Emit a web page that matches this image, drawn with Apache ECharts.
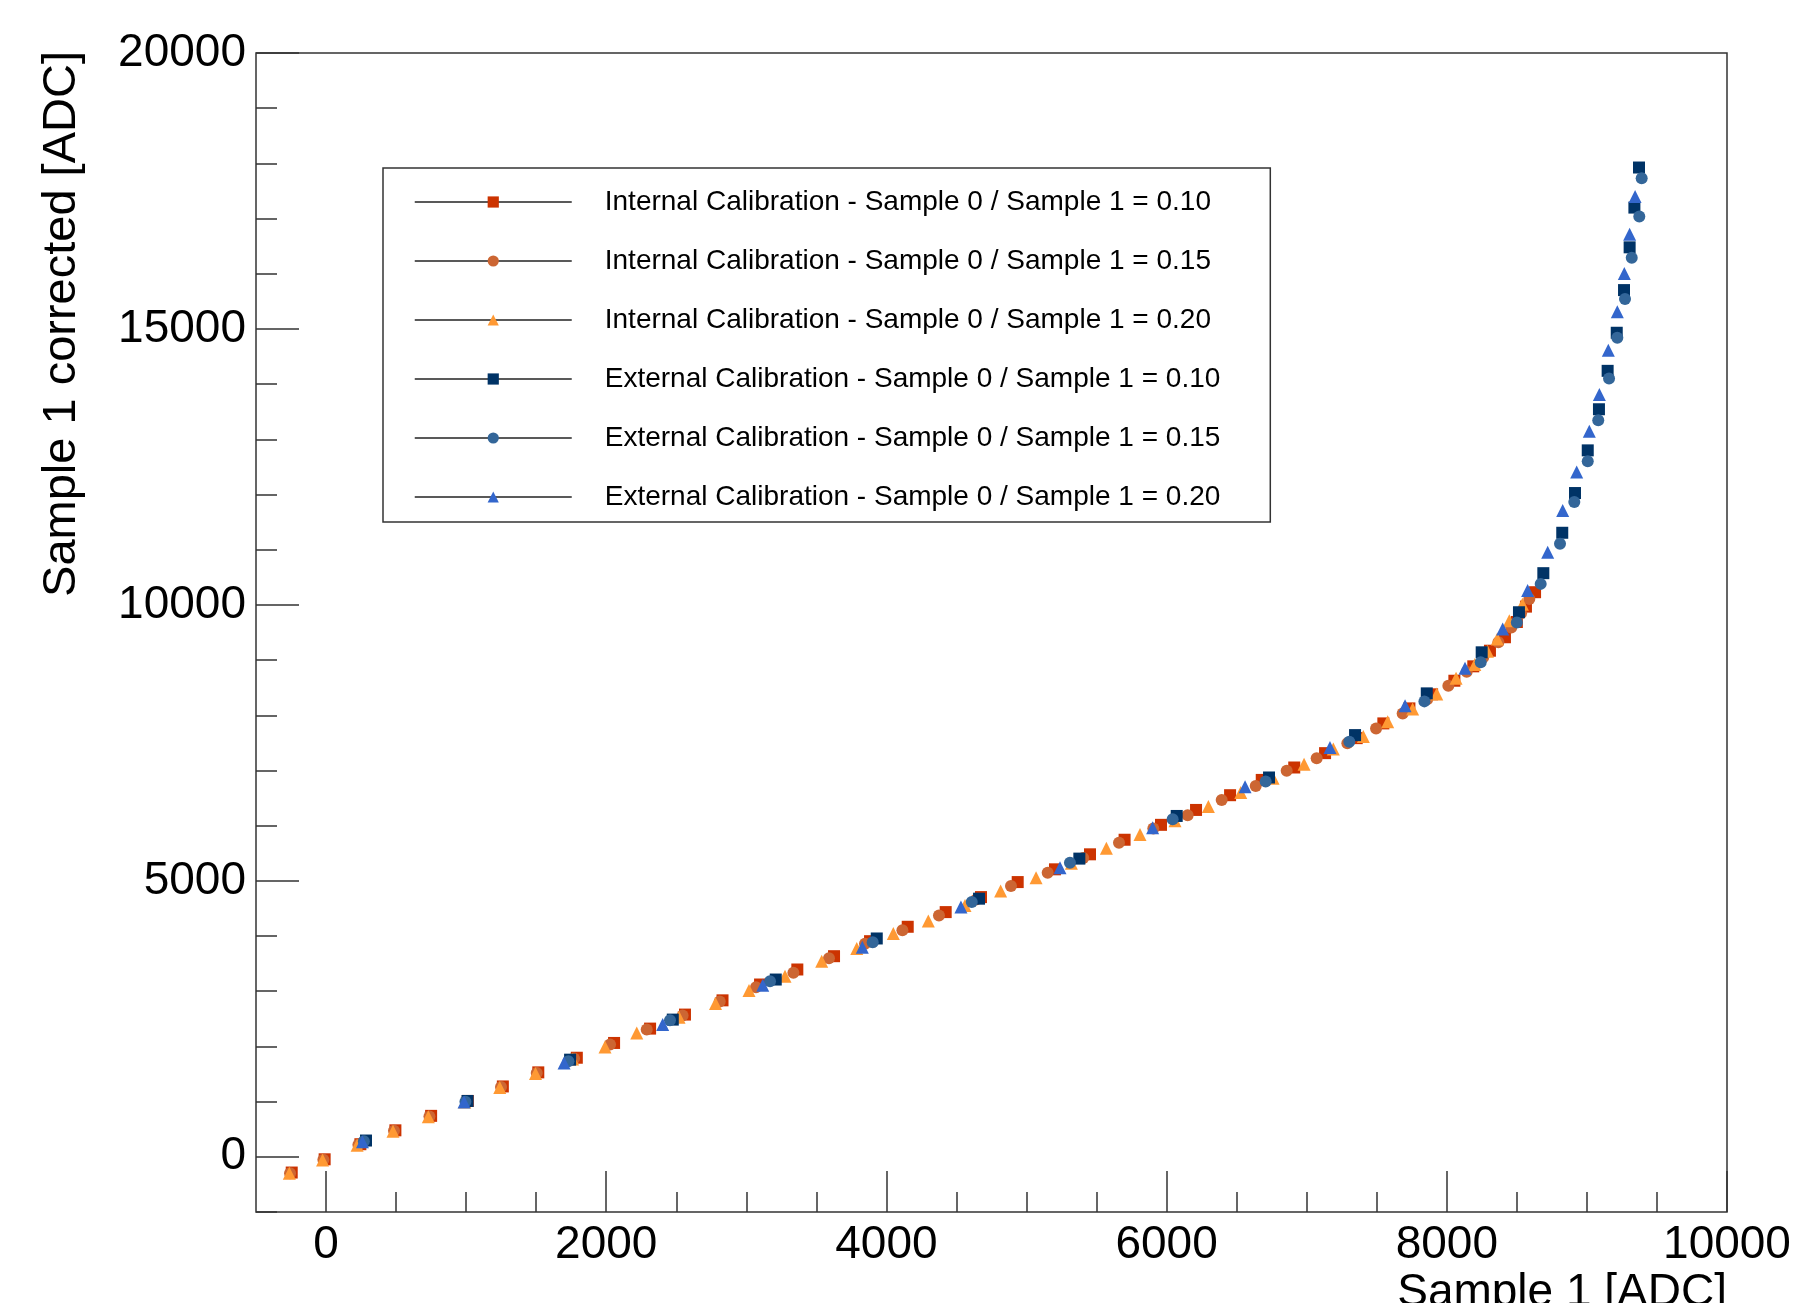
<!DOCTYPE html>
<html>
<head>
<meta charset="utf-8">
<script src="https://cdn.jsdelivr.net/npm/echarts@6/dist/echarts.min.js"></script>
<style>
  html, body { margin: 0; background: #fff; }
  #chart { width: 1793px; height: 1303px; }
</style>
</head>
<body>
<div id="chart"></div>
<script>
const FONT = '"Liberation Sans", Arial, Helvetica, sans-serif';
const INK = '#000';
const FRAME = '#333';

// axis ticks
const xMajorTicks = [0, 2000, 4000, 6000, 8000, 10000];
const xMinorTicks = [500, 1000, 1500, 2500, 3000, 3500, 4500, 5000, 5500, 6500, 7000, 7500, 8500, 9000, 9500];
const yMajorTicks = [0, 5000, 10000, 15000, 20000];
const yMinorTicks = [-1000, 1000, 2000, 3000, 4000, 6000, 7000, 8000, 9000, 11000, 12000, 13000, 14000,
  16000, 17000, 18000, 19000];

const seriesNames = [
  'Internal Calibration - Sample 0 / Sample 1 = 0.10',
  'Internal Calibration - Sample 0 / Sample 1 = 0.15',
  'Internal Calibration - Sample 0 / Sample 1 = 0.20',
  'External Calibration - Sample 0 / Sample 1 = 0.10',
  'External Calibration - Sample 0 / Sample 1 = 0.15',
  'External Calibration - Sample 0 / Sample 1 = 0.20',
];

// [Sample 1, Sample 1 corrected]
const int010 = [
  [-245, -285], [-10, -45], [245, 228], [495, 480], [750, 742], [1012, 1012], [1262, 1275], [1515, 1530],
  [1790, 1795], [2056, 2063], [2313, 2323], [2562, 2577], [2830, 2835], [3098, 3122], [3364, 3394],
  [3626, 3635], [3883, 3907], [4152, 4168], [4423, 4434], [4675, 4706], [4937, 4978], [5203, 5209],
  [5453, 5481], [5700, 5745], [5960, 6015], [6210, 6285], [6453, 6552], [6679, 6829], [6911, 7054],
  [7131, 7314], [7357, 7586], [7547, 7853], [7733, 8125], [7895, 8380], [8054, 8626], [8189, 8887],
  [8308, 9170], [8415, 9414], [8500, 9690], [8565, 9969], [8630, 10230],
];
const int015 = [
  [-257, -296], [-19, -54], [231, 218], [485, 472], [738, 732], [999, 1004], [1249, 1265], [1504, 1519],
  [1770, 1780], [2027, 2033], [2289, 2305], [2545, 2560], [2810, 2815], [3069, 3073], [3336, 3333],
  [3590, 3599], [3847, 3860], [4114, 4107], [4375, 4374], [4640, 4660], [4889, 4906], [5151, 5149],
  [5405, 5414], [5660, 5690], [5905, 5950], [6150, 6189], [6393, 6466], [6636, 6720], [6857, 6993],
  [7071, 7223], [7290, 7495], [7495, 7762], [7685, 8034], [7860, 8290], [8011, 8535], [8142, 8789],
  [8260, 9050], [8368, 9323], [8460, 9590], [8530, 9850], [8589, 10109],
];
const int020 = [
  [-262, -300], [-25, -60], [222, 210], [478, 465], [730, 725], [990, 995], [1240, 1255], [1495, 1510],
  [1760, 1770], [1991, 1990], [2218, 2245], [2520, 2530], [2780, 2780], [3019, 3013], [3276, 3272],
  [3538, 3545], [3788, 3775], [4049, 4047], [4299, 4271], [4561, 4555], [4815, 4815], [5068, 5058],
  [5320, 5320], [5570, 5590], [5810, 5840], [6060, 6090], [6298, 6347], [6529, 6600], [6760, 6860],
  [6981, 7114], [7190, 7387], [7404, 7617], [7578, 7882], [7756, 8113], [7928, 8385], [8066, 8670],
  [8200, 8920], [8290, 9160], [8360, 9383], [8446, 9715], [8540, 10010],
];
const ext010 = [
  [285, 295], [1010, 1012], [1742, 1760], [2475, 2486], [3210, 3212], [3931, 3956], [4661, 4677],
  [5377, 5403], [6072, 6176], [6731, 6873], [7345, 7641], [7857, 8397], [8249, 9141], [8515, 9867],
  [8689, 10575], [8824, 11307], [8915, 12027], [9006, 12800], [9086, 13545], [9148, 14241],
  [9213, 14931], [9265, 15704], [9305, 16479], [9339, 17199], [9372, 17925],
];
const ext015 = [
  [270, 280], [995, 998], [1730, 1730], [2455, 2474], [3169, 3181], [3902, 3889], [4609, 4615],
  [5310, 5330], [6043, 6116], [6707, 6800], [7304, 7519], [7840, 8252], [8242, 8960], [8500, 9680],
  [8670, 10381], [8808, 11107], [8910, 11864], [9006, 12601], [9081, 13345], [9158, 14102],
  [9217, 14840], [9272, 15541], [9320, 16292], [9374, 17036], [9391, 17731],
];
const ext020 = [
  [260, 275], [985, 995], [1699, 1700], [2403, 2396], [3117, 3109], [3828, 3799], [4532, 4525],
  [5239, 5239], [5900, 5960], [6560, 6703], [7166, 7417], [7702, 8172], [8130, 8851], [8399, 9564],
  [8577, 10260], [8720, 10956], [8827, 11711], [8927, 12408], [9017, 13145], [9089, 13811],
  [9153, 14615], [9217, 15312], [9267, 16007], [9305, 16715], [9344, 17398],
];

const seriesData = [int010, int015, int020, ext010, ext015, ext020];
const seriesColors = ['#cc3300', '#cc6633', '#ff9933', '#003366', '#336699', '#3366cc'];
const seriesSymbols = ['rect', 'circle', 'triangle', 'rect', 'circle', 'triangle'];

const chart = echarts.init(document.getElementById('chart'));

const tickLine = { color: FRAME, width: 1.5 };
const tickLabel = { fontFamily: FONT, fontSize: 46, color: INK, margin: 10, formatter: v => String(v) };
const noLine = { show: false, onZero: false };

chart.setOption({
  animation: false,
  backgroundColor: '#fff',
  grid: {
    left: 256, top: 53, width: 1471, height: 1159, show: true,
    borderColor: FRAME, borderWidth: 1.5, containLabel: false, outerBoundsMode: 'none',
  },
  xAxis: [
    {
      type: 'value', min: -500, max: 10000, position: 'bottom',
      axisLine: noLine,
      axisTick: { inside: true, length: 41, customValues: xMajorTicks, lineStyle: tickLine },
      axisLabel: { ...tickLabel, customValues: xMajorTicks },
      splitLine: { show: false },
    },
    {
      type: 'value', min: -500, max: 10000, position: 'bottom',
      axisLine: noLine,
      axisTick: { inside: true, length: 20, customValues: xMinorTicks, lineStyle: tickLine },
      axisLabel: { show: false },
      splitLine: { show: false },
    },
  ],
  yAxis: [
    {
      type: 'value', min: -1000, max: 20000, position: 'left',
      axisLine: noLine,
      axisTick: { inside: true, length: 43, customValues: yMajorTicks, lineStyle: tickLine },
      axisLabel: { ...tickLabel, customValues: yMajorTicks, padding: [7, 0, 0, 0] },
      splitLine: { show: false },
    },
    {
      type: 'value', min: -1000, max: 20000, position: 'left',
      axisLine: noLine,
      axisTick: { inside: true, length: 21, customValues: yMinorTicks, lineStyle: tickLine },
      axisLabel: { show: false },
      splitLine: { show: false },
    },
  ],
  legend: {
    orient: 'vertical', left: 383, top: 168,
    itemWidth: 157, itemHeight: 14, itemGap: 31,
    padding: [20, 50, 11, 31],
    backgroundColor: '#fff', borderColor: FRAME, borderWidth: 1.5, borderRadius: 0,
    textStyle: { fontFamily: FONT, fontSize: 28, color: INK, lineHeight: 28, padding: [0, 0, 0, 28] },
    lineStyle: { color: '#222', width: 1.5, opacity: 1, type: 'solid' },
    itemStyle: { borderWidth: 0 },
    selectedMode: false,
    data: seriesNames,
  },
  graphic: [
    {
      type: 'text', x: 62, y: 324, rotation: Math.PI / 2,
      style: { text: 'Sample 1 corrected [ADC]', font: `47px ${FONT}`, fill: INK, align: 'center', verticalAlign: 'middle' },
    },
    {
      type: 'text', x: 1727, y: 1270,
      style: { text: 'Sample 1 [ADC]', font: `46px ${FONT}`, fill: INK, align: 'right', verticalAlign: 'top' },
    },
  ],
  series: seriesNames.map((name, i) => ({
    name,
    type: 'line',
    data: seriesData[i],
    symbol: seriesSymbols[i],
    symbolSize: seriesSymbols[i] === 'triangle' ? 13 : 12,
    showSymbol: true,
    showAllSymbol: true,
    itemStyle: { color: seriesColors[i], borderWidth: 0 },
    lineStyle: { opacity: 0, width: 0 },
    emphasis: { disabled: true },
  })),
});
</script>
</body>
</html>
